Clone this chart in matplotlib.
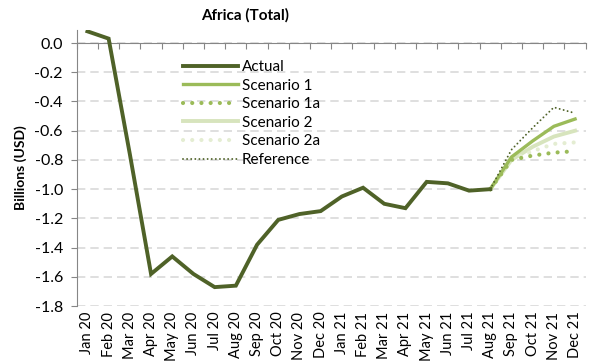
import matplotlib
matplotlib.use("Agg")
import matplotlib.pyplot as plt
import numpy as np

plt.rcParams["font.family"] = ["Lato", "DejaVu Sans"]
plt.rcParams["axes.unicode_minus"] = False

months = ["Jan 20", "Feb 20", "Mar 20", "Apr 20", "May 20", "Jun 20", "Jul 20", "Aug 20",
          "Sep 20", "Oct 20", "Nov 20", "Dec 20", "Jan 21", "Feb 21", "Mar 21", "Apr 21",
          "May 21", "Jun 21", "Jul 21", "Aug 21", "Sep 21", "Oct 21", "Nov 21", "Dec 21"]

actual = [0.08, 0.03, -0.76, -1.58, -1.46, -1.58, -1.67, -1.66,
          -1.38, -1.21, -1.17, -1.15, -1.05, -0.99, -1.10, -1.13,
          -0.95, -0.96, -1.01, -1.00]

# projections start from the last actual month (Aug 21)
proj_months = months[19:]
scenario_1 = [-1.00, -0.78, -0.67, -0.57, -0.52]
scenario_1a = [-1.00, -0.80, -0.77, -0.75, -0.74]
scenario_2 = [-1.00, -0.80, -0.71, -0.64, -0.60]
scenario_2a = [-1.00, -0.80, -0.74, -0.69, -0.68]
reference = [-1.00, -0.73, -0.58, -0.44, -0.48]

yticks = [-1.8, -1.6, -1.4, -1.2, -1.0, -0.8, -0.6, -0.4, -0.2, 0.0]

dark = "#4f6228"
mid = "#9bbb59"
light = "#d7e4bd"
pale = "#e4edd2"

fig = plt.figure(figsize=(5.91, 3.64), dpi=100)
ax = fig.add_axes([0.130, 0.159, 0.861, 0.759])

x = np.arange(len(months))
xp = np.arange(19, len(months))

ax.plot(x[:len(actual)], actual, color=dark, lw=2.8, label="Actual", zorder=5,
        solid_joinstyle="miter")
ax.plot(xp, scenario_1, color=mid, lw=2.4, label="Scenario 1", zorder=4)
ax.plot(xp, scenario_1a, color=mid, lw=3.0, ls=(0, (0.01, 2.2)),
        dash_capstyle="round", label="Scenario 1a", zorder=4)
ax.plot(xp, scenario_2, color=light, lw=2.8, label="Scenario 2", zorder=3)
ax.plot(xp, scenario_2a, color=pale, lw=3.0, ls=(0, (0.01, 2.2)),
        dash_capstyle="round", label="Scenario 2a", zorder=3)
ax.plot(xp, reference, color=dark, lw=1.4, ls=(0, (0.01, 2.1)),
        dash_capstyle="round", label="Reference", zorder=4)

ax.set_xlim(-0.5, len(months) - 0.5)
ax.set_ylim(-1.8, 0.09)

# y axis with dashed grid
ax.set_yticks(yticks)
ax.set_yticklabels([f"{v:.1f}".replace("-0.0", "0.0") for v in yticks], fontsize=11.5)
ax.yaxis.grid(True, color="#d9d9d9", lw=1.2, ls=(0, (5, 3)))
ax.set_axisbelow(True)
ax.tick_params(axis="y", direction="out", length=4, color="#868686", pad=6)

for s in ["top", "right"]:
    ax.spines[s].set_visible(False)
ax.spines["left"].set_color("#868686")
ax.spines["bottom"].set_color("#868686")
ax.spines["bottom"].set_position(("data", 0))

# category boundaries on the zero line, labels along the bottom
ax.set_xticks(np.arange(-0.5, len(months), 1.0))
ax.set_xticklabels([])
ax.tick_params(axis="x", direction="out", length=4, color="#868686")

sec = ax.secondary_xaxis(0.0)
sec.set_xticks(x)
sec.set_xticklabels(months, rotation=90, fontsize=10.5)
sec.tick_params(length=0, pad=4)
sec.spines["bottom"].set_visible(False)

ax.set_ylabel("Billions (USD)", fontsize=10, fontweight="bold", labelpad=5)
fig.text(245 / 591, 1 - 15 / 364, "Africa (Total)", fontsize=11, fontweight="bold",
         ha="center", va="center")

fig.legend(loc="upper left", bbox_to_anchor=(183 / 591, 1 - 60 / 364), frameon=False,
           fontsize=11, handlelength=3.6, handletextpad=0.25, labelspacing=0.3,
           borderpad=0, borderaxespad=0)

fig.savefig("out.png", dpi=100)
